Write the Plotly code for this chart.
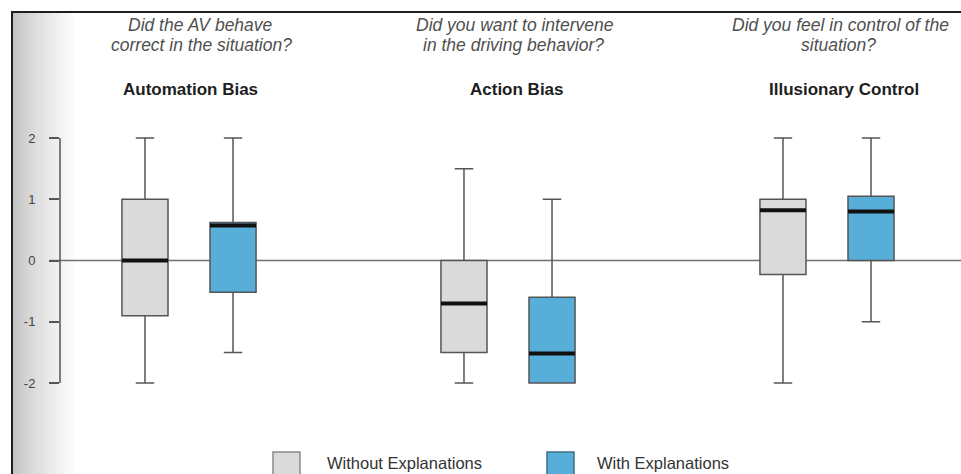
import plotly.graph_objects as go

# ---- data ----
categories = ["Automation Bias", "Action Bias", "Illusionary Control"]
question_line1 = ["Did the AV behave", "Did you want to intervene", "Did you feel in control of the"]
question_line2 = ["correct in the situation?", "in the driving behavior?", "situation?"]

without_lower = [-2.0, -2.0, -2.0]
without_q1 = [-0.9, -1.5, -0.23]
without_median = [0.0, -0.7, 0.82]
without_q3 = [1.0, 0.0, 1.0]
without_upper = [2.0, 1.5, 2.0]

with_lower = [-1.5, -2.0, -1.0]
with_q1 = [-0.52, -2.0, 0.0]
with_median = [0.57, -1.52, 0.8]
with_q3 = [0.62, -0.6, 1.05]
with_upper = [2.0, 1.0, 2.0]

y_ticks = [2, 1, 0, -1, -2]
legend_labels = ["Without Explanations", "With Explanations"]

# ---- styles ----
GRAY_FILL = "#dadada"
BLUE_FILL = "#57aed8"
OUTLINE = "#555555"
FONT = "Liberation Sans, Arial, sans-serif"

W, H = 961, 474
L, R, T, B = 60, 961, 135, 386


def px(x):
    return (x - L) / (R - L)


def py(y):
    return (B - y) / (B - T)


fig = go.Figure()

fig.add_trace(go.Box(
    name=legend_labels[0], x=categories, q1=without_q1, median=without_median,
    q3=without_q3, lowerfence=without_lower, upperfence=without_upper,
    fillcolor=GRAY_FILL, line=dict(color=OUTLINE, width=1.5), whiskerwidth=0.4,
    offsetgroup="a", boxpoints=False, showlegend=False))
fig.add_trace(go.Box(
    name=legend_labels[1], x=categories, q1=with_q1, median=with_median,
    q3=with_q3, lowerfence=with_lower, upperfence=with_upper,
    fillcolor=BLUE_FILL, line=dict(color=OUTLINE, width=1.5), whiskerwidth=0.4,
    offsetgroup="b", boxpoints=False, showlegend=False))
# thick median bars
for med, grp in [(without_median, "a"), (with_median, "b")]:
    fig.add_trace(go.Box(
        x=categories, q1=med, median=med, q3=med, lowerfence=med, upperfence=med,
        fillcolor="rgba(0,0,0,0)", line=dict(color="#111111", width=4),
        whiskerwidth=0, offsetgroup=grp, boxpoints=False, showlegend=False,
        hoverinfo="skip"))

shapes = []
# left gradient
n = 32
for i in range(n):
    t = i / (n - 1)
    v = int(195 + (255 - 195) * (t ** 0.8))
    shapes.append(dict(type="rect", xref="paper", yref="paper",
                       x0=px(13 + 2 * i), x1=px(15 + 2 * i), y0=py(H), y1=py(13),
                       fillcolor=f"rgb({v},{v},{v})", line=dict(width=0), layer="below"))
# frame
shapes.append(dict(type="line", xref="paper", yref="paper", x0=px(12), x1=px(W + 2),
                   y0=py(12), y1=py(12), line=dict(color="#1e1e1e", width=2)))
shapes.append(dict(type="line", xref="paper", yref="paper", x0=px(12), x1=px(12),
                   y0=py(11), y1=py(H + 2), line=dict(color="#1e1e1e", width=2)))
# zero line
shapes.append(dict(type="line", xref="paper", yref="y", x0=px(50), x1=px(W + 2),
                   y0=0, y1=0, line=dict(color="#707070", width=1.5), layer="below"))
# y-axis line from -2 to 2
shapes.append(dict(type="line", xref="paper", yref="y", x0=0, x1=0,
                   y0=min(y_ticks), y1=max(y_ticks), line=dict(color=OUTLINE, width=1.5)))
# legend squares
for xl, col, oc in [(273, GRAY_FILL, "#8a8a8a"), (547, BLUE_FILL, "#3f6f88")]:
    shapes.append(dict(type="rect", xref="paper", yref="paper",
                       x0=px(xl), x1=px(xl + 27), y0=py(478), y1=py(452),
                       fillcolor=col, line=dict(color=oc, width=1.5)))

annotations = []
q1_x = [200, 515, 840]
q2_x = [201, 513, 838]
t_x = [190, 517, 844]
for a, b, tx, l1, l2, c in zip(q1_x, q2_x, t_x, question_line1, question_line2, categories):
    annotations.append(dict(xref="paper", yref="paper", x=px(a), y=py(25),
                            text=f"<i>{l1}</i>", showarrow=False, xanchor="center",
                            yanchor="middle", font=dict(family=FONT, size=17.5, color="#505050")))
    annotations.append(dict(xref="paper", yref="paper", x=px(b), y=py(45),
                            text=f"<i>{l2}</i>", showarrow=False, xanchor="center",
                            yanchor="middle", font=dict(family=FONT, size=17.5, color="#505050")))
    annotations.append(dict(xref="paper", yref="paper", x=px(tx), y=py(90),
                            text=f"<b>{c}</b>", showarrow=False, xanchor="center",
                            yanchor="middle", font=dict(family=FONT, size=17, color="#1e1e1e")))
for lx, lab in [(325, legend_labels[0]), (595, legend_labels[1])]:
    annotations.append(dict(xref="paper", yref="paper", x=px(lx), y=py(463),
                            text=lab, showarrow=False, xanchor="left", yanchor="middle",
                            font=dict(family=FONT, size=16.5, color="#333333")))

fig.update_layout(
    width=W, height=H,
    margin=dict(l=L, r=W - R, t=T, b=H - B, pad=0),
    paper_bgcolor="white", plot_bgcolor="rgba(0,0,0,0)",
    boxmode="group", boxgap=0.448, boxgroupgap=0.477,
    showlegend=False, shapes=shapes, annotations=annotations,
    font=dict(family=FONT),
)
fig.update_xaxes(range=[(L - 189) / 319, (R - 189) / 319], showticklabels=False,
                 showgrid=False, zeroline=False, showline=False, ticks="")
fig.update_yaxes(range=[-2 - 3 / 61.25, 2 + 3 / 61.25], tickvals=y_ticks,
                 ticktext=[str(v) for v in y_ticks], ticks="outside", ticklen=10,
                 tickwidth=1.5, tickcolor=OUTLINE, showgrid=False, zeroline=False,
                 showline=False, ticklabelstandoff=11,
                 tickfont=dict(family=FONT, size=13, color="#444444"))

fig.write_html(
    "out.html",
    config={"displayModeBar": False},
    post_script="document.body.style.margin='0';document.body.style.padding='0';"
                "document.documentElement.style.overflow='hidden';",
)
